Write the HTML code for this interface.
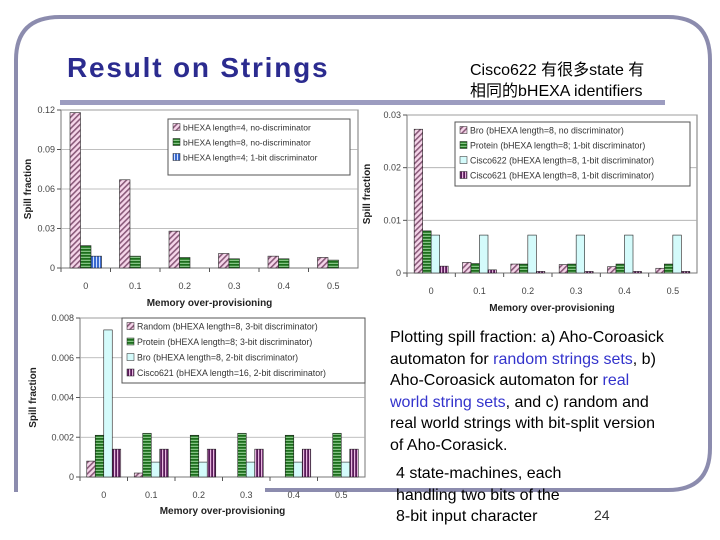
<!DOCTYPE html>
<html><head><meta charset="utf-8"><style>
body{margin:0;background:#fff;}
#slide{position:relative;width:720px;height:540px;overflow:hidden;font-family:"Liberation Sans","Noto Sans CJK SC",sans-serif;}
.t{position:absolute;white-space:nowrap;}
</style></head><body>
<div id="slide">
<svg id="svg" width="720" height="540" style="position:absolute;left:0;top:0">
<defs>
<pattern id="pDiag" width="4" height="4" patternUnits="userSpaceOnUse" patternTransform="rotate(45)"><rect width="4" height="4" fill="#f6d6ea"/><rect width="1.6" height="4" fill="#8a5a7a"/></pattern>
<pattern id="pGreen" width="4" height="3" patternUnits="userSpaceOnUse"><rect width="4" height="3" fill="#1c6e1c"/><rect y="1.8" width="4" height="1" fill="#9fd89f"/></pattern>
<pattern id="pBlue" width="3" height="4" patternUnits="userSpaceOnUse"><rect width="3" height="4" fill="#3a6ad0"/><rect width="1" height="4" fill="#cfe0ff"/></pattern>
<pattern id="pPurple" width="3" height="4" patternUnits="userSpaceOnUse"><rect width="3" height="4" fill="#5a1a5a"/><rect width="1.2" height="4" fill="#e8b8e0"/></pattern>
</defs>
<path d="M16 492 L16 60 Q16 17 60 17 L668 17 Q710 17 710 60 L710 448 Q710 490 668 490 L265 490" fill="none" stroke="#8c8cae" stroke-width="4"/>
<rect x="60" y="100" width="605" height="5" fill="#9c9cc0"/>
<g id="charts"></g>
</svg>
<div class="t" style="left:67px;top:52px;font-size:28px;letter-spacing:1.8px;font-weight:bold;color:#2b2b8f;">Result on Strings</div>
<div class="t" style="left:470px;top:60px;font-size:16px;line-height:21px;color:#000;">Cisco622 有很多state 有<br>相同的bHEXA identifiers</div>
<div class="t" style="left:390px;top:327px;font-size:16px;line-height:21.5px;color:#000;">Plotting spill fraction: a) Aho-Coroasick<br>automaton for <span style="color:#3333cc">random strings sets</span>, b)<br>Aho-Coroasick automaton for <span style="color:#3333cc">real</span><br><span style="color:#3333cc">world string sets</span>, and c) random and<br>real world strings with bit-split version<br>of Aho-Corasick.</div>
<div class="t" style="left:396px;top:463px;font-size:16px;line-height:21.5px;color:#000;">4 state-machines, each<br>handling two bits of the<br>8-bit input character</div>
<div class="t" style="left:594px;top:507px;font-size:14px;color:#333;">24</div>
</div>
<script>
const categories = ["0","0.1","0.2","0.3","0.4","0.5"];
// chart A
const aTicks = ["0","0.03","0.06","0.09","0.12"];
const aTickVals = [0,0.03,0.06,0.09,0.12];
const aLen4 = [0.118,0.067,0.028,0.011,0.009,0.008];
const aLen8 = [0.017,0.009,0.008,0.007,0.007,0.006];
const aLen4Disc = [0.009,0,0,0,0,0];
const aLabels = ["bHEXA length=4, no-discriminator","bHEXA length=8, no-discriminator","bHEXA length=4; 1-bit discriminator"];
// chart B
const bTicks = ["0","0.01","0.02","0.03"];
const bTickVals = [0,0.01,0.02,0.03];
const bBro = [0.0273,0.002,0.0017,0.0016,0.0012,0.0009];
const bProtein = [0.008,0.0018,0.0017,0.0017,0.0017,0.0017];
const bCisco622 = [0.0072,0.0072,0.0072,0.0072,0.0072,0.0072];
const bCisco621 = [0.0013,0.0006,0.0003,0.0003,0.0003,0.0003];
const bLabels = ["Bro (bHEXA length=8, no discriminator)","Protein (bHEXA length=8; 1-bit discriminator)","Cisco622 (bHEXA length=8, 1-bit discriminator)","Cisco621 (bHEXA length=8, 1-bit discriminator)"];
// chart C
const cTicks = ["0","0.002","0.004","0.006","0.008"];
const cTickVals = [0,0.002,0.004,0.006,0.008];
const cRandom = [0.0008,0.0002,0,0,0,0];
const cProtein = [0.0021,0.0022,0.0021,0.0022,0.0021,0.0022];
const cBro = [0.0074,0.00075,0.00075,0.00075,0.00075,0.00075];
const cCisco621 = [0.0014,0.0014,0.0014,0.0014,0.0014,0.0014];
const cLabels = ["Random (bHEXA length=8, 3-bit discriminator)","Protein (bHEXA length=8; 3-bit discriminator)","Bro (bHEXA length=8, 2-bit discriminator)","Cisco621 (bHEXA length=16, 2-bit discriminator)"];

const NS="http://www.w3.org/2000/svg";
const root=document.getElementById('charts');
function mk(tag,attrs,parent,text){const e=document.createElementNS(NS,tag);for(const k in attrs)e.setAttribute(k,attrs[k]);if(text!==undefined)e.textContent=text;parent.appendChild(e);return e;}

function drawChart(cfg){
  const g=mk('g',{},root);
  
  
  const {x0,x1,y0,y1,max}=cfg;
  const ys=v=>y1-(v/max)*(y1-y0);
  const step=(x1-x0)/categories.length;
  const xs=i=>x0+step*(i+0.5);
  mk('rect',{x:x0,y:y0,width:x1-x0,height:y1-y0,fill:'#fff',stroke:'#777','stroke-width':1},g);
  cfg.tickVals.forEach((v,i)=>{
    const y=ys(v);
    if(v>0){const gl=mk('line',{x1:x0,x2:x1,y1:y,y2:y,stroke:'#aaa','stroke-width':0.8},g);
    
    }
    mk('line',{x1:x0-4,x2:x0,y1:y,y2:y,stroke:'#555'},g);
    const t=mk('text',{x:x0-6,y:y+3,'text-anchor':'end','font-size':9,fill:'#444','font-family':'Liberation Sans'},g,cfg.ticks[i]);
    
    
  });
  categories.forEach((c,i)=>{
    mk('line',{x1:x0+step*i,x2:x0+step*i,y1:y1,y2:y1+4,stroke:'#555'},g);
    const t=mk('text',{x:xs(i),y:y1+21,'text-anchor':'middle','font-size':9,fill:'#444','font-family':'Liberation Sans'},g,c);
    
    
  });
  const n=cfg.series.length, bw=cfg.bw;
  cfg.series.forEach((s,si)=>{
    s.forEach((v,i)=>{
      if(v<=0)return;
      const bx=xs(i)-n*bw/2+si*bw;
      const r=mk('rect',{x:bx,y:ys(v),width:bw,height:y1-ys(v),fill:cfg.fills[si],stroke:'#222','stroke-width':0.6},g);
      
      
    });
  });
  const L=cfg.legend;
  const lg=mk('g',{},g);
  
  
  mk('rect',{x:L.x,y:L.y,width:L.w,height:L.h,fill:'#fff',stroke:'#555'},lg);
  cfg.labels.forEach((lab,i)=>{
    const ly=L.y+8+i*L.dy;
    mk('rect',{x:L.x+5,y:ly-3.5,width:7,height:7,fill:cfg.fills[i],stroke:'#222','stroke-width':0.5},lg);
    const t=mk('text',{x:L.x+15,y:ly+3.5,'font-size':L.fs,fill:'#333','font-family':'Liberation Sans'},lg,lab);
    
    
  });
  const yt=mk('text',{x:cfg.ytx,y:(y0+y1)/2,'text-anchor':'middle','font-size':10,'font-weight':'bold',fill:'#222','font-family':'Liberation Sans',transform:`rotate(-90 ${cfg.ytx} ${(y0+y1)/2})`},g,'Spill fraction');
  
  
  const xt=mk('text',{x:(x0+x1)/2,y:cfg.xty,'text-anchor':'middle','font-size':10,'font-weight':'bold',fill:'#222','font-family':'Liberation Sans'},g,'Memory over-provisioning');
  
  
}

drawChart({name:'chart-random-strings',x0:61,x1:358,y0:110,y1:268,max:0.12,ticks:aTicks,tickVals:aTickVals,
  series:[aLen4,aLen8,aLen4Disc],keys:['len4','len8','len4-disc'],fills:['url(#pDiag)','url(#pGreen)','url(#pBlue)'],bw:10.5,
  labels:aLabels,legend:{x:168,y:119,w:182,h:56,dy:15,fs:8.5},ytx:31,xty:306});
drawChart({name:'chart-real-strings',x0:407,x1:697,y0:115,y1:273,max:0.03,ticks:bTicks,tickVals:bTickVals,
  series:[bBro,bProtein,bCisco622,bCisco621],keys:['bro','protein','cisco622','cisco621'],fills:['url(#pDiag)','url(#pGreen)','#d4fbfb','url(#pPurple)'],bw:8.5,
  labels:bLabels,legend:{x:455,y:122,w:235,h:64,dy:15,fs:8.8},ytx:370,xty:311});
drawChart({name:'chart-bit-split',x0:80,x1:365,y0:318,y1:477,max:0.008,ticks:cTicks,tickVals:cTickVals,
  series:[cRandom,cProtein,cBro,cCisco621],keys:['random','protein','bro','cisco621'],fills:['url(#pDiag)','url(#pGreen)','#d4fbfb','url(#pPurple)'],bw:8.5,
  labels:cLabels,legend:{x:122,y:318,w:243,h:65,dy:15.5,fs:8.8},ytx:36,xty:514});
</script>
</body></html>
